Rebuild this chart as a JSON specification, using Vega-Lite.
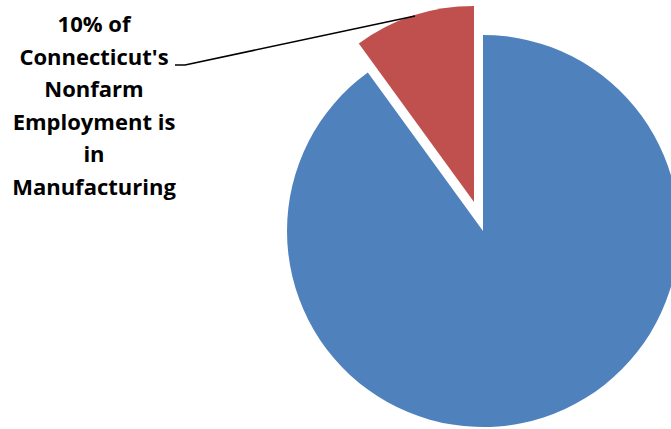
{
  "$schema": "https://vega.github.io/schema/vega-lite/v6.json",
  "autosize": "none",
  "width": 376,
  "height": 392,
  "padding": {"left": 295, "top": 35, "right": 0, "bottom": 2},
  "background": "white",
  "config": {"view": {"stroke": null}},
  "data": {
    "values": [
      {"category": "Other Nonfarm Employment", "share": 90},
      {"category": "Manufacturing", "share": 10}
    ]
  },
  "layer": [
    {
      "mark": {"type": "arc", "outerRadius": 196, "stroke": null},
      "encoding": {
        "theta": {"field": "share", "type": "quantitative", "stack": true},
        "order": {"field": "share", "type": "quantitative", "sort": "descending"},
        "color": {
          "field": "category",
          "type": "nominal",
          "scale": {"domain": ["Other Nonfarm Employment", "Manufacturing"], "range": ["#4F81BD", "#C0504D"]},
          "legend": null
        },
        "opacity": {"condition": {"test": "datum.category === 'Manufacturing'", "value": 0}, "value": 1}
      }
    },
    {
      "mark": {"type": "arc", "outerRadius": 196, "stroke": null, "xOffset": -9, "yOffset": -29},
      "encoding": {
        "theta": {"field": "share", "type": "quantitative", "stack": true},
        "order": {"field": "share", "type": "quantitative", "sort": "descending"},
        "color": {
          "field": "category",
          "type": "nominal",
          "scale": {"domain": ["Other Nonfarm Employment", "Manufacturing"], "range": ["#4F81BD", "#C0504D"]},
          "legend": null
        },
        "opacity": {"condition": {"test": "datum.category === 'Manufacturing'", "value": 1}, "value": 0}
      }
    },
    {
      "data": {"values": [{"label": "10% of Connecticut's Nonfarm Employment is in Manufacturing"}]},
      "mark": {
        "type": "text",
        "text": ["10% of", "Connecticut's", "Nonfarm", "Employment is", "in", "Manufacturing"],
        "font": "Open Sans",
        "fontWeight": "bold",
        "fontSize": 22,
        "lineHeight": 32.6,
        "align": "center",
        "baseline": "middle",
        "color": "black",
        "dx": -389,
        "dy": -206
      },
      "encoding": {}
    },
    {
      "data": {"values": [{"label": "leader"}]},
      "mark": {"type": "rule", "color": "black", "strokeWidth": 1.5},
      "encoding": {
        "x": {"value": -110},
        "y": {"value": 30},
        "x2": {"value": 120},
        "y2": {"value": -19}
      }
    },
    {
      "data": {"values": [{"label": "leader tick"}]},
      "mark": {"type": "rule", "color": "black", "strokeWidth": 1.5},
      "encoding": {
        "x": {"value": -120},
        "y": {"value": 30},
        "x2": {"value": -110},
        "y2": {"value": 30}
      }
    }
  ]
}
